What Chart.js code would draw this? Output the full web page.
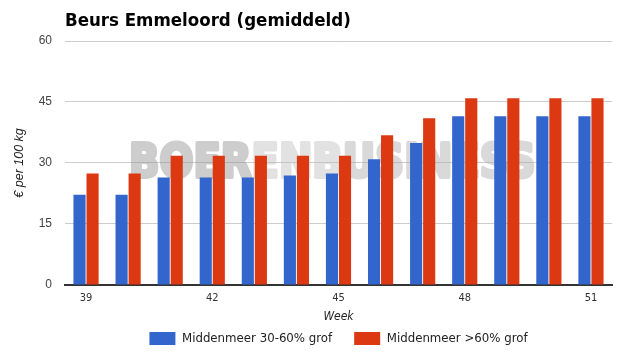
<!DOCTYPE html>
<html>
<head>
<meta charset="utf-8">
<script src="https://cdn.jsdelivr.net/npm/chart.js@4.4.1/dist/chart.umd.min.js"></script>
<style>
html,body{margin:0;padding:0;background:#fff;}
#wrap{width:625px;height:355px;position:relative;}
</style>
</head>
<body>
<div id="wrap"><canvas id="c" width="625" height="355"></canvas></div>
<script>
const chartTitle = "Beurs Emmeloord (gemiddeld)";
const weeks = ["39","40","41","42","43","44","45","46","47","48","49","50","51"];
const seriesNames = ["Middenmeer 30-60% grof", "Middenmeer >60% grof"];
const grof3060 = [22.2, 22.2, 26.4, 26.4, 26.4, 26.9, 27.4, 30.9, 34.9, 41.5, 41.5, 41.5, 41.5];
const grof60 = [27.4, 27.4, 31.8, 31.8, 31.8, 31.8, 31.8, 36.8, 41.0, 45.9, 45.9, 45.9, 45.9];
const yTicks = [0, 15, 30, 45, 60];
const watermark = ["BOER", "ENB", "USINESS"];

const titlePlugin = {
  id: 'customTitle',
  afterDraw(chart) {
    const ctx = chart.ctx;
    ctx.save();
    ctx.font = "bold 18.5px 'DejaVu Sans Condensed', 'DejaVu Sans'";
    ctx.fillStyle = "#000";
    ctx.textBaseline = "alphabetic";
    ctx.textAlign = "left";
    ctx.fillText(chartTitle, chart.chartArea.left, 26);
    ctx.restore();
  }
};

const legendShift = {
  id: 'legendShift',
  afterLayout(chart) {
    const lg = chart.legend;
    if (!lg) return;
    const ca = chart.chartArea;
    const dx = (ca.left + ca.right) / 2 - (lg.left + lg.right) / 2;
    lg.left += dx; lg.right += dx;
  }
};

const watermarkPlugin = {
  id: 'watermark',
  beforeDatasetsDraw(chart) {
    const off = document.createElement('canvas');
    off.width = 625; off.height = 355;
    const o = off.getContext('2d');
    o.font = "bold 47px 'DejaVu Sans', sans-serif";
    o.textBaseline = "alphabetic";
    o.lineJoin = "round";
    o.lineWidth = 4;
    const ws = watermark.map(t => o.measureText(t).width);
    const total = ws.reduce((a, b) => a + b, 0) + 4;
    const sx = 410 / total;
    o.translate(129, 176.5);
    o.scale(sx, 1);
    const cols = ["rgb(145,145,145)", "rgb(190,190,190)", "rgb(170,170,170)"];
    let x = 0;
    watermark.forEach((t, i) => {
      o.fillStyle = cols[i];
      o.strokeStyle = cols[i];
      o.fillText(t, x, 0);
      o.strokeText(t, x, 0);
      x += ws[i];
    });
    const ctx = chart.ctx;
    ctx.save();
    ctx.globalAlpha = 0.45;
    ctx.drawImage(off, 0, 0);
    ctx.restore();
  }
};

new Chart(document.getElementById('c'), {
  type: 'bar',
  data: {
    labels: weeks,
    datasets: [
      { label: seriesNames[0], data: grof3060, backgroundColor: '#3366cc', categoryPercentage: 0.62, barPercentage: 0.93 },
      { label: seriesNames[1], data: grof60, backgroundColor: '#dc3912', categoryPercentage: 0.62, barPercentage: 0.93 }
    ]
  },
  options: {
    responsive: false,
    animation: false,
    devicePixelRatio: 1,
    layout: { padding: { left: 0, right: 13, top: 41, bottom: 0 } },
    plugins: {
      title: { display: false },
      tooltip: { enabled: false },
      legend: {
        display: true,
        position: 'bottom',
        labels: {
          boxWidth: 26, boxHeight: 13,
          color: '#222',
          font: { family: "'DejaVu Sans Condensed', 'DejaVu Sans'", size: 13.1 },
          padding: 22
        }
      }
    },
    scales: {
      x: {
        afterFit: (axis) => { axis.height = 25; },
        grid: { display: false, drawTicks: false },
        border: { display: true, color: '#333', width: 2 },
        ticks: {
          color: '#333',
          font: { family: "'DejaVu Sans Condensed', 'DejaVu Sans'", size: 11 },
          autoSkip: false, maxRotation: 0, padding: 7,
          callback: function(v, i) { return (i % 3 === 0) ? this.getLabelForValue(v) : ''; }
        },
        title: { display: true, text: 'Week', color: '#222', padding: { top: 0, bottom: -14 },
          font: { family: "'DejaVu Sans Condensed', 'DejaVu Sans'", size: 12, style: 'italic' } }
      },
      y: {
        min: 0, max: 60,
        afterBuildTicks: (axis) => { axis.ticks = yTicks.map(v => ({ value: v })); },
        afterFit: (axis) => { axis.width = 65; },
        grid: { color: '#cccccc', drawTicks: false },
        border: { display: false },
        ticks: {
          color: '#444', padding: 13,
          font: { family: "'Liberation Sans', Arial", size: 12 }
        },
        title: { display: true, text: '€ per 100 kg', color: '#222', padding: { top: 12, bottom: 0 },
          font: { family: "'Liberation Sans', Arial", size: 12.5, style: 'italic' } }
      }
    }
  },
  plugins: [titlePlugin, watermarkPlugin, legendShift]
});
</script>
</body>
</html>
